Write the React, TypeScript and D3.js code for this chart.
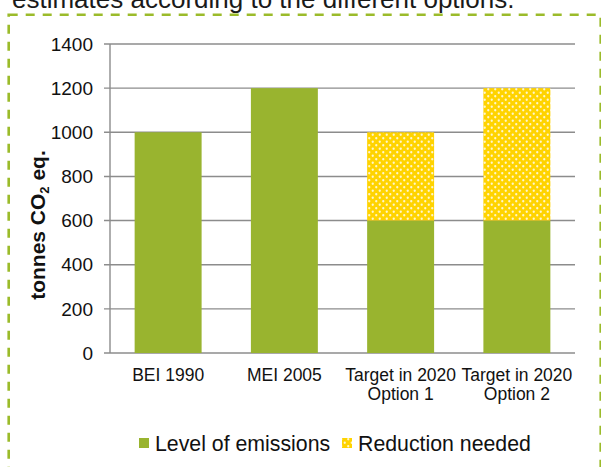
import * as d3 from "d3";

const categories = ["BEI 1990", "MEI 2005", "Target in 2020|Option 1", "Target in 2020|Option 2"];
const emissions = [1000, 1200, 600, 600];
const reduction = [0, 0, 400, 600];
const yTicks = [0, 200, 400, 600, 800, 1000, 1200, 1400];
const seriesNames = ["Level of emissions", "Reduction needed"];

const GREEN = "#99B42F";
const YELLOW = "#FFD300";
const BORDER = "#9BBB2A";
const GRID = "#8C8C8C";
const FONT = "Arial, 'Liberation Sans', sans-serif";

export default function App() {
  const width = 601;
  const height = 467;
  const plot = { left: 110, right: 575, top: 44, bottom: 353 };

  const x = d3
    .scaleBand<string>()
    .domain(categories)
    .range([plot.left, plot.right])
    .paddingInner(0.424)
    .paddingOuter(0.212);
  const y = d3.scaleLinear().domain([0, 1400]).range([plot.bottom, plot.top]);

  return (
    <svg
      width={width}
      height={height}
      style={{ position: "fixed", left: 0, top: 0, background: "#fff" }}
      fontFamily={FONT}
    >
      <defs>
        <pattern id="dots" width={7} height={7} patternUnits="userSpaceOnUse">
          <rect width={7} height={7} fill={YELLOW} />
          <circle cx={1.75} cy={1.75} r={1.15} fill="#fff" opacity={0.8} />
          <circle cx={5.25} cy={5.25} r={1.15} fill="#fff" opacity={0.8} />
        </pattern>
      </defs>

      {/* clipped title from the surrounding page */}
      <text x={12} y={8} fontSize={26} fill="#1a1a1a">
        estimates according to the different options.
      </text>

      {/* dashed frame */}
      <rect
        x={8.7}
        y={14.7}
        width={592}
        height={480}
        fill="none"
        stroke={BORDER}
        strokeWidth={2.6}
        strokeDasharray="9,8"
      />

      {/* grid lines + ticks */}
      {yTicks.map((t) => (
        <g key={t}>
          <line x1={plot.left - 6} x2={plot.right} y1={y(t)} y2={y(t)} stroke={GRID} strokeWidth={1.4} />
          <text x={93} y={y(t)} dy="0.35em" textAnchor="end" fontSize={19} fill="#111">
            {t}
          </text>
        </g>
      ))}
      <line x1={plot.left} x2={plot.left} y1={plot.top} y2={plot.bottom} stroke={GRID} strokeWidth={1.4} />

      {/* bars */}
      {categories.map((c, i) => (
        <g key={c}>
          <rect
            x={x(c)}
            width={x.bandwidth()}
            y={y(emissions[i])}
            height={y(0) - y(emissions[i])}
            fill={GREEN}
          />
          {reduction[i] > 0 && (
            <rect
              x={x(c)}
              width={x.bandwidth()}
              y={y(emissions[i] + reduction[i])}
              height={y(emissions[i]) - y(emissions[i] + reduction[i])}
              fill="url(#dots)"
            />
          )}
        </g>
      ))}

      {/* category labels */}
      {categories.map((c) => {
        const cx = (x(c) ?? 0) + x.bandwidth() / 2;
        return c.split("|").map((line, j) => (
          <text
            key={c + j}
            x={cx}
            y={381 + j * 19}
            textAnchor="middle"
            fontSize={17.5}
            fill="#111"
          >
            {line}
          </text>
        ));
      })}

      {/* y title */}
      <text
        transform={`translate(45,225) rotate(-90)`}
        textAnchor="middle"
        fontSize={21}
        fontWeight="bold"
        fill="#111"
      >
        tonnes CO
        <tspan fontSize={13} dy={4}>2</tspan>
        <tspan dy={-4}> eq.</tspan>
      </text>

      {/* legend */}
      <rect x={139} y={438} width={10} height={10} fill={GREEN} />
      <text x={155} y={451} fontSize={21.3} fill="#111">
        {seriesNames[0]}
      </text>
      <rect x={342} y={438} width={10} height={10} fill="url(#dots)" />
      <text x={358} y={451} fontSize={21.3} fill="#111">
        {seriesNames[1]}
      </text>
    </svg>
  );
}
